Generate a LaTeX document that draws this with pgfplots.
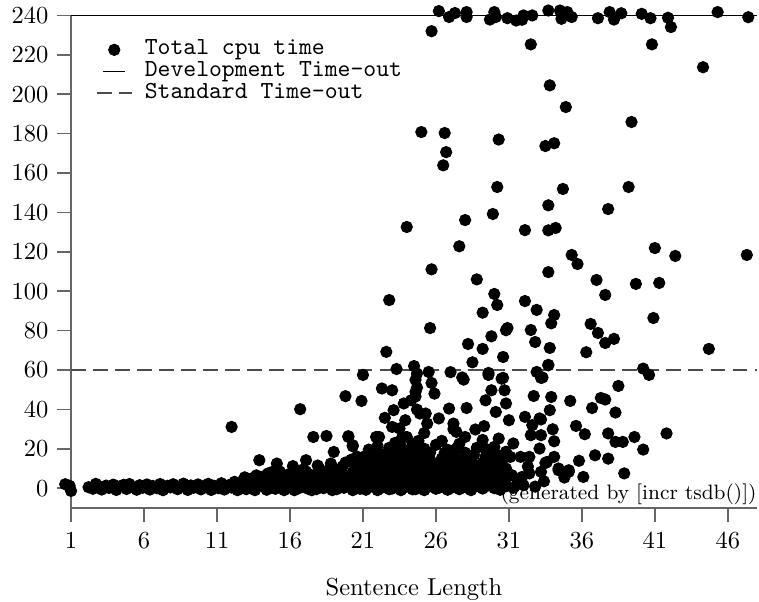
\documentclass[border=0pt]{standalone}
\usepackage{pgfplots}
\pgfplotsset{compat=1.18}
\pgfplotsset{
  shortline/.style={legend image code/.code={\draw[##1] (0.14cm,0cm) -- (0.46cm,0cm);}},
  longline/.style={legend image code/.code={\draw[##1] (0.05cm,0cm) -- (0.55cm,0cm);}}}
\begin{document}
\begin{tikzpicture}
\begin{axis}[scale only axis,width=280pt,height=201pt,
  xmin=1,xmax=48,ymin=-10,ymax=240,
  axis lines=left,axis line style={-,black!60,line width=0.6pt},
  xtick={1,6,...,46},ytick={0,20,...,240},
  tick align=outside,major tick length=5.7pt,
  tick style={black!60,line width=0.6pt},
  x tick label style={yshift=-1pt},
  xlabel={Sentence Length},xlabel style={yshift=-5pt},
  clip=false,
  legend cell align=left,
  legend style={draw=none,fill=none,at={(rel axis cs:0.036,0.953)},
    anchor=north west,font=\ttfamily,inner sep=0pt,column sep=5pt,
    nodes={inner sep=0.1pt,text height=6.4pt,text depth=2.2pt}}]

% total cpu time per item
\addplot[only marks,mark=*,mark size=2.3pt,black] coordinates {
  (0.6,2.0)(0.9,1.2)(1.0,-1.4)
  (2.2,0.5)(2.5,-0.3)(2.7,2.2)(2.9,1.0)(3.1,-0.7)(3.4,1.3)(3.6,0.1)(3.9,1.8)
  (4.1,-0.9)(4.3,0.8)(4.6,1.7)(4.8,-0.4)(5.0,2.1)(5.2,0.6)(5.5,-0.8)(5.7,1.5)
  (5.9,0.2)(6.2,1.9)(6.4,-0.7)(6.6,1.1)(6.9,0.0)(7.1,2.1)(7.3,-1.0)(7.6,1.2)
  (7.8,0.4)(8.0,2.0)(8.3,-0.5)(8.5,0.9)(8.7,2.3)(9.0,-0.9)(9.2,1.4)(9.4,0.2)
  (9.7,1.9)(9.9,-0.6)(10.1,1.0)(10.4,2.2)(10.6,-0.9)(10.8,1.2)(11.1,0.0)
  (11.3,2.5)(11.5,-0.7)(11.8,1.5)(12.0,0.3)
  (12.2,3.2)(12.4,-1.0)(12.6,1.2)(12.8,4.0)(13.0,-0.5)(13.2,2.4)(13.4,5.0)
  (13.6,-1.0)(13.8,0.9)(14.0,3.5)(14.2,6.0)(14.4,-0.8)(14.6,1.8)(14.8,4.4)
  (15.0,-0.3)(15.2,2.8)(15.4,6.5)(15.6,-1.0)(15.8,0.6)(16.0,4.0)(13.3,1.0)
  (14.7,0.2)(15.5,4.0)(14.5,7.5)(15.3,8.5)(15.9,7.0)(13.7,6.5)(12.9,5.5)
  (16.2,7.5)(16.3,-1.0)(16.5,2.0)(16.7,5.0)(16.9,9.5)(17.0,0.5)(17.2,3.4)
  (17.4,6.8)(17.5,-1.0)(17.7,1.5)(17.9,4.8)(18.0,10.0)(18.1,8.2)(18.3,0.0)
  (18.5,3.0)(18.7,6.0)(18.8,12.5)(18.9,-1.0)(19.1,1.8)(19.3,4.5)(19.4,8.0)
  (19.6,11.0)(19.7,0.2)(19.9,3.2)(20.1,6.4)(20.2,14.5)(20.3,-1.0)(20.5,1.5)
  (20.6,9.5)(20.7,4.2)(20.9,7.5)(21.0,0.4)(21.0,12.0)(16.6,0.0)(17.8,-0.5)
  (19.0,9.8)(20.4,12.5)
  (16.4,4.0)(16.8,1.5)(17.1,8.5)(17.3,-0.5)(17.6,3.0)(17.9,11.5)(18.2,5.5)
  (18.4,1.0)(18.6,9.0)(19.2,-0.5)(19.5,5.5)(19.8,13.0)(20.0,2.0)(20.3,8.0)
  (20.6,16.0)(20.8,-0.3)(20.9,3.0)
  (21.2,-0.8)(21.2,3.1)(21.2,7.2)(21.2,11.0)(21.2,16.5)
  (21.6,0.9)(21.6,4.8)(21.6,9.0)(21.6,14.0)
  (22.0,-1.0)(22.0,2.5)(22.0,6.5)(22.0,10.5)(22.0,13.0)(22.0,21.5)
  (22.4,1.2)(22.4,5.0)(22.4,8.8)(22.4,12.6)(22.4,17.0)
  (22.8,-0.5)(22.8,3.6)(22.8,7.0)(22.8,11.5)(22.8,15.5)(22.8,20.5)
  (23.2,0.8)(23.2,4.5)(23.2,9.4)(23.2,13.8)(23.2,18.5)(23.2,23.0)
  (23.6,-1.0)(23.6,2.8)(23.6,6.2)(23.6,10.0)(23.6,16.0)(23.6,21.0)
  (24.0,1.5)(24.0,5.5)(24.0,8.5)(24.0,12.2)(24.0,19.0)(24.0,26.0)
  (24.4,-0.6)(24.4,3.0)(24.4,7.5)(24.4,11.2)(24.4,15.0)(24.4,22.5)
  (24.8,0.5)(24.8,4.2)(24.8,9.0)(24.8,13.5)(24.8,17.5)(24.8,24.0)
  (25.2,-1.0)(25.2,2.2)(25.2,6.0)(25.2,10.8)(25.2,20.0)(25.2,28.0)
  (25.6,1.0)(25.6,5.0)(25.6,8.2)(25.6,14.5)(25.6,18.0)
  (26.0,-0.3)(26.0,3.5)(26.0,7.0)(26.0,12.0)(26.0,22.0)
  (21.4,1.8)(21.4,5.8)(21.8,3.0)(21.8,7.6)(22.2,0.0)(22.2,4.0)(22.6,2.5)
  (22.6,6.0)(23.0,-0.2)(23.0,5.8)(23.4,2.0)(23.4,7.8)(23.8,0.2)(23.8,4.0)
  (24.2,2.6)(24.2,10.0)(24.6,-0.5)(24.6,6.0)(25.0,3.5)(25.0,8.0)(25.4,0.5)
  (25.4,4.0)(25.8,2.2)(25.8,11.0)(26.2,0.2)(26.2,6.0)(26.6,2.5)(27.0,0.0)
  (27.4,2.5)(27.8,1.5)(28.2,0.0)(28.6,3.5)(29.4,1.0)(29.8,3.0)(30.2,1.5)
  (21.8,12.0)(22.2,15.0)(22.6,10.0)(23.0,16.0)(23.4,12.0)(23.8,14.5)(24.2,17.5)
  (24.6,20.0)(25.0,13.0)(25.4,16.0)(25.8,7.0)
  (26.4,0.8)(26.4,4.5)(26.4,9.5)(26.4,15.0)(26.4,24.0)
  (26.8,-0.8)(26.8,2.8)(26.8,7.0)(26.8,12.5)(26.8,19.5)
  (27.2,1.2)(27.2,5.5)(27.2,10.0)(27.2,17.0)(27.2,30.0)
  (27.6,-0.5)(27.6,3.6)(27.6,8.0)(27.6,14.0)(27.6,22.5)
  (28.0,0.6)(28.0,4.8)(28.0,11.5)(28.0,18.0)(28.0,26.0)
  (28.4,-1.0)(28.4,2.5)(28.4,6.5)(28.4,15.5)
  (28.8,1.0)(28.8,5.2)(28.8,9.5)(28.8,20.5)
  (29.2,-0.2)(29.2,3.5)(29.2,7.5)(29.2,13.0)(29.2,24.5)
  (29.6,1.5)(29.6,6.0)(29.6,11.0)(29.6,17.5)
  (30.0,0.0)(30.0,4.0)(30.0,8.5)(30.0,14.5)(30.0,21.0)
  (30.4,-0.8)(30.4,2.5)(30.4,6.5)(30.4,12.0)
  (30.8,1.0)(30.8,5.0)(30.8,10.0)(30.8,18.5)
  (26.2,9.0)(26.6,18.0)(27.0,5.0)(27.0,13.5)(27.4,8.5)(27.4,20.0)(27.8,11.0)
  (27.8,5.0)(28.2,8.0)(28.2,14.0)(28.6,12.0)(28.6,17.0)(29.0,5.0)(29.0,10.5)
  (29.4,16.0)(29.4,20.0)(29.8,8.0)(29.8,13.5)(30.2,10.5)(30.2,17.0)(30.6,8.5)
  (30.6,15.0)
  (31.3,0.2)(31.6,3.0)(32.0,1.5)(32.3,11.0)(32.8,0.8)(33.4,3.5)(29.0,0.8)
  (12.0,31.1)(16.7,40.1)(17.6,26.0)(18.5,26.5)(20.0,26.4)(13.9,14.2)(15.1,12.5)
  (16.2,11.2)(17.1,14.2)(14.8,8.3)(19.0,18.4)(20.3,21.8)(21.7,18.4)(21.9,26.0)
  (23.7,26.0)(24.6,55.0)(24.7,51.0)(24.6,46.5)
  (27.9,55.1)(29.6,58.5)(30.5,55.6)(30.7,49.7)(32.7,46.8)(33.2,56.0)(19.8,46.7)
  (20.9,44.3)(22.3,50.6)(23.0,49.7)(25.7,53.4)(25.9,48.0)(23.8,43.0)(24.3,44.6)
  (24.6,48.9)(24.7,39.9)(23.1,39.6)(22.5,35.7)(23.9,34.5)(23.0,31.1)(23.5,30.3)
  (22.1,26.0)(20.0,26.0)(20.3,21.3)(21.4,19.6)(24.9,37.9)(25.3,37.9)(25.4,32.8)
  (26.2,35.4)(26.9,40.4)(27.2,32.8)(27.4,28.6)(28.1,40.7)(28.7,29.8)(29.3,31.5)
  (30.1,38.7)(29.4,44.6)(29.8,49.7)(30.8,43.0)(31.0,34.5)(30.3,25.2)(31.3,22.7)
  (32.1,36.2)(32.6,32.0)(33.1,35.4)(33.1,20.1)(32.5,26.9)(31.1,15.9)(31.8,15.9)
  (32.4,15.9)(33.2,8.3)(31.9,5.7)
  (38.5,51.9)(33.9,46.3)(35.2,44.3)(37.3,45.8)(37.6,45.0)(36.7,40.7)(33.8,39.6)
  (38.3,38.4)(33.2,34.9)(35.6,31.6)(36.2,27.4)(34.0,29.9)(37.8,27.8)(38.3,23.5)
  (38.8,23.5)(39.6,26.0)(41.8,27.8)(40.2,19.6)(34.1,23.8)(33.2,26.9)(36.9,16.7)
  (37.8,15.0)(35.8,13.9)(34.1,15.9)(33.5,12.8)(34.4,9.1)(35.1,9.1)(34.8,5.4)
  (36.1,5.7)(38.9,7.5)(31.2,6.6)(32.4,7.5)(33.6,13.3)(34.4,10.0)(35.1,8.3)
  (27.6,122.8)(25.7,111.1)(28.8,106.0)(33.7,109.7)(35.3,118.4)(35.7,113.8)
  (41.0,121.9)(42.4,117.9)(47.3,118.4)(37.0,105.7)(37.6,98.1)(39.7,103.7)
  (41.3,104.2)(40.9,86.4)(22.8,95.5)(30.0,98.6)(30.2,93.0)(32.1,95.0)(32.9,90.5)
  (34.1,87.9)(33.9,83.7)(29.2,89.1)(25.6,81.3)(30.9,81.3)(30.8,80.2)(29.8,77.1)
  (32.5,80.3)(32.8,74.2)(36.6,83.4)(37.1,78.8)(37.6,73.7)(38.2,75.8)(28.2,73.2)
  (29.2,70.7)(33.8,71.2)(22.6,69.2)(30.6,66.6)(36.3,69.0)(44.7,70.7)(28.5,63.9)
  (33.7,62.6)(23.3,60.5)(24.5,62.0)(24.7,58.2)(25.5,59.0)(27.0,58.9)(21.0,57.5)
  (32.9,59.0)(40.2,60.7)(40.6,57.5)(27.8,56.2)(29.6,57.5)(30.6,56.0)(33.3,56.2)
  (33.7,62.4)
  (26.2,242.2)(25.7,232.0)(26.9,239.2)(27.3,241.2)(28.1,241.7)(28.1,239.2)
  (30.0,241.7)(29.7,237.9)(30.1,239.2)(30.9,238.6)(31.5,237.4)(32.0,240.0)
  (31.9,237.8)(32.6,240.0)(32.5,225.3)(33.7,242.5)(34.5,242.5)(34.6,238.3)
  (35.0,241.7)(35.3,239.2)(33.8,204.5)(34.9,193.5)(37.1,238.6)(37.9,241.7)
  (38.2,237.9)(38.7,241.1)(40.1,240.8)(40.7,238.6)(40.8,225.3)(41.9,238.8)
  (42.1,234.1)(44.3,213.7)(45.3,241.7)(47.4,239.1)(39.4,185.9)(25.0,180.8)
  (26.6,180.3)(30.3,177.0)(33.5,173.7)(34.1,175.1)(26.7,170.6)(26.5,163.9)
  (30.2,152.9)(34.7,151.9)(39.2,152.9)(33.7,143.6)(37.8,141.7)(29.9,139.2)
  (28.0,136.1)(24.0,132.6)(32.1,131.0)(33.7,130.9)(34.2,132.1)};
\addlegendentry{Total cpu time}

% the two time-out levels
\addplot[black,line width=0.4pt,shortline] coordinates {(1,240)(48,240)};
\addlegendentry{Development Time-out}
\addplot[black!70,line width=0.5pt,dash pattern=on 6pt off 3pt,longline]
  coordinates {(1,60)(48,60)};
\addlegendentry{Standard Time-out}

\node[anchor=south east,inner sep=0pt,yshift=1.2pt,
  font=\fontsize{8.5}{10}\selectfont] at (rel axis cs:1,0)
  {(generated by [incr tsdb()])};
\coordinate (ll) at (rel axis cs:0,0);
\coordinate (ur) at (rel axis cs:1,1);
\end{axis}
\pgfresetboundingbox
\path ([shift={(-29pt,-38.2pt)}]ll) rectangle ([shift={(0.8pt,6.3pt)}]ur);
\end{tikzpicture}
\end{document}
